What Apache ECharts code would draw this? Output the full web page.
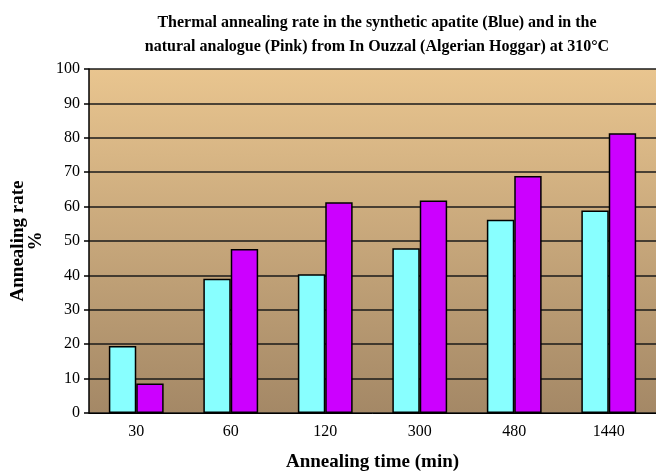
<!DOCTYPE html>
<html>
<head>
<meta charset="utf-8">
<script src="https://cdn.jsdelivr.net/npm/echarts@6/dist/echarts.min.js"></script>
<style>
  html, body { margin: 0; padding: 0; background: #fff; }
  #chart { width: 656px; height: 471px; }
</style>
</head>
<body>
<div id="chart"></div>
<script>
// annealing times (min) and rates (%)
const times = ['30', '60', '120', '300', '480', '1440'];
const synthetic = [19.5, 39.0, 40.3, 47.9, 56.2, 58.9];   // blue
const natural = [8.6, 47.7, 61.3, 61.8, 68.9, 81.3];      // pink
const yTicks = { min: 0, max: 100, interval: 10 };

const chart = echarts.init(document.getElementById('chart'));
const serif = '"Liberation Serif", "DejaVu Serif", serif';

const option = {
  backgroundColor: '#ffffff',
  animation: false,
  title: {
    text: 'Thermal annealing rate in the synthetic apatite (Blue) and in the\nnatural analogue (Pink) from In Ouzzal (Algerian Hoggar) at 310°C',
    left: 372, top: 6, textAlign: 'center',
    textStyle: { fontFamily: serif, fontSize: 16, fontWeight: 'bold', color: '#000', lineHeight: 24 }
  },
  grid: {
    left: 89, right: 0, top: 69, bottom: 58,
    outerBoundsMode: 'none', containLabel: false,
    show: true, borderWidth: 0,
    backgroundColor: new echarts.graphic.LinearGradient(0, 0, 0, 1, [
      { offset: 0, color: '#e9c58f' },
      { offset: 1, color: '#a48866' }
    ])
  },
  xAxis: {
    type: 'category', data: times,
    name: 'Annealing time (min)', nameLocation: 'middle', nameGap: 40,
    nameTextStyle: { fontFamily: serif, fontSize: 19, fontWeight: 'bold', color: '#000' },
    axisLine: { lineStyle: { color: '#000', width: 1 } },
    axisTick: { show: false },
    axisLabel: { fontFamily: serif, fontSize: 16, color: '#000', margin: 11 }
  },
  yAxis: {
    type: 'value', min: yTicks.min, max: yTicks.max, interval: yTicks.interval,
    name: 'Annealing rate\n%', nameLocation: 'middle', nameGap: 44,
    nameTextStyle: { fontFamily: serif, fontSize: 19, fontWeight: 'bold', color: '#000', lineHeight: 18 },
    axisLine: { show: true, lineStyle: { color: '#000', width: 1.5 } },
    axisTick: { show: true, inside: false, length: 5, lineStyle: { color: '#000', width: 1.5 } },
    axisLabel: { fontFamily: serif, fontSize: 16, color: '#000', margin: 9 },
    splitLine: { show: true, lineStyle: { color: '#1a1a1a', width: 1.5 } }
  },
  series: [
    {
      name: 'Synthetic', type: 'bar', data: synthetic,
      barGap: '0%', barCategoryGap: '42%',
      itemStyle: { color: '#88ffff', borderColor: '#000', borderWidth: 1.5 }
    },
    {
      name: 'Natural', type: 'bar', data: natural,
      itemStyle: { color: '#cc00ff', borderColor: '#000', borderWidth: 1.5 }
    }
  ]
};

chart.setOption(option);
</script>
</body>
</html>
